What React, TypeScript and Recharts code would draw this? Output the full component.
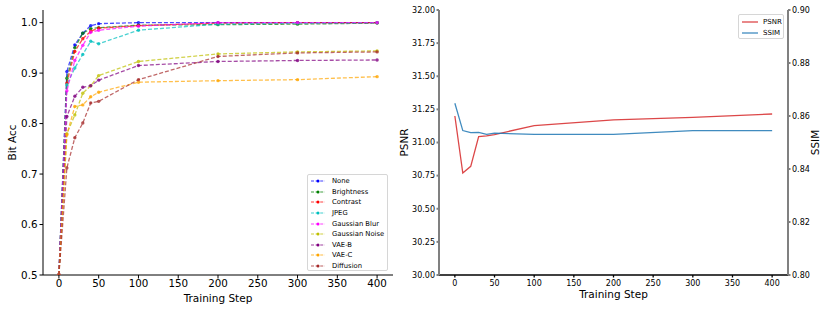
import { LineChart, Line, XAxis, YAxis, Legend } from "recharts";

const FONT = "'DejaVu Sans', sans-serif";

// training steps shared by both panels
const steps = [0, 10, 20, 30, 40, 50, 100, 200, 300, 400];

// bit accuracy under each attack
const accNone = [0.5, 0.903, 0.956, 0.979, 0.994, 0.998, 1.0, 1.0, 1.0, 1.0];
const accBrightness = [0.5, 0.89, 0.95, 0.979, 0.988, 0.99, 0.995, 0.996, 0.997, 0.999];
const accContrast = [0.5, 0.88, 0.943, 0.968, 0.983, 0.989, 0.994, 0.999, 1.0, 1.0];
const accJpeg = [0.5, 0.877, 0.91, 0.937, 0.963, 0.958, 0.985, 0.997, 0.999, 1.0];
const accBlur = [0.5, 0.865, 0.925, 0.955, 0.981, 0.985, 0.993, 1.0, 1.0, 1.0];
const accNoise = [0.5, 0.78, 0.817, 0.86, 0.875, 0.895, 0.923, 0.938, 0.942, 0.944];
const accVaeB = [0.5, 0.814, 0.854, 0.872, 0.875, 0.886, 0.915, 0.923, 0.925, 0.926];
const accVaeC = [0.5, 0.778, 0.834, 0.837, 0.853, 0.862, 0.882, 0.885, 0.887, 0.893];
const accDiffusion = [0.5, 0.712, 0.772, 0.801, 0.841, 0.844, 0.887, 0.933, 0.94, 0.942];

// image quality
const psnr = [31.2, 30.77, 30.82, 31.045, 31.05, 31.06, 31.127, 31.17, 31.19, 31.215];
const ssim = [0.8648, 0.8545, 0.8537, 0.8538, 0.8531, 0.8535, 0.8531, 0.8531, 0.8545, 0.8545];

const stepTicks = [0, 50, 100, 150, 200, 250, 300, 350, 400];
const accTicks = [0.5, 0.6, 0.7, 0.8, 0.9, 1.0];
const psnrTicks = [30, 30.25, 30.5, 30.75, 31, 31.25, 31.5, 31.75, 32];
const ssimTicks = [0.8, 0.82, 0.84, 0.86, 0.88, 0.9];

const accSeries = [
    { key: "none", name: "None", color: "#0000ff", values: accNone },
    { key: "brightness", name: "Brightness", color: "#008000", values: accBrightness },
    { key: "contrast", name: "Contrast", color: "#ff0000", values: accContrast },
    { key: "jpeg", name: "JPEG", color: "#00bfbf", values: accJpeg },
    { key: "blur", name: "Gaussian Blur", color: "#ff00ff", values: accBlur },
    { key: "noise", name: "Gaussian Noise", color: "#bfbf00", values: accNoise },
    { key: "vaeb", name: "VAE-B", color: "#800080", values: accVaeB },
    { key: "vaec", name: "VAE-C", color: "#ffa500", values: accVaeC },
    { key: "diffusion", name: "Diffusion", color: "#a52a2a", values: accDiffusion },
];

const accData = steps.map((step, i) => {
    const row: any = { step };
    accSeries.forEach(s => { row[s.key] = s.values[i]; });
    return row;
});

const qualityData = steps.map((step, i) => ({ step, psnr: psnr[i], ssim: ssim[i] }));

const qualitySeries = [
    { name: "PSNR", color: "#d62728" },
    { name: "SSIM", color: "#1f77b4" },
];

function AccLegend() {
    return (
        <div style={{
            width: 81, height: 97, boxSizing: "border-box", border: "1px solid #d6d6d6", borderRadius: 2,
            background: "rgba(255,255,255,0.85)", padding: "1px 0 0 2px", fontFamily: FONT, fontSize: 6.8, color: "#000",
        }}>
            {accSeries.map(s => (
                <div key={s.key} style={{ height: 10.6, display: "flex", alignItems: "center" }}>
                    <svg width={22} height={6} style={{ flexShrink: 0 }}>
                        <line x1={1} x2={15} y1={3} y2={3} stroke={s.color} strokeOpacity={0.75} strokeWidth={1.2} strokeDasharray="3 1.6" />
                        <circle cx={8} cy={3} r={1.5} fill={s.color} />
                    </svg>
                    <span style={{ whiteSpace: "nowrap" }}>{s.name}</span>
                </div>
            ))}
        </div>
    );
}

function QualityLegend() {
    return (
        <div style={{
            width: 46, height: 25, boxSizing: "border-box", border: "1px solid #d6d6d6", borderRadius: 2,
            background: "rgba(255,255,255,0.85)", padding: "1px 0 0 2px", fontFamily: FONT, fontSize: 7, color: "#000",
        }}>
            {qualitySeries.map(s => (
                <div key={s.name} style={{ height: 11, display: "flex", alignItems: "center" }}>
                    <svg width={22} height={6} style={{ flexShrink: 0 }}>
                        <line x1={1} x2={17} y1={3} y2={3} stroke={s.color} strokeOpacity={0.85} strokeWidth={1.3} />
                    </svg>
                    <span>{s.name}</span>
                </div>
            ))}
        </div>
    );
}

export default function App() {
    const bigTick = { fontSize: 10.3, fill: "#000", fontFamily: FONT };
    const smallTick = { fontSize: 8, fill: "#000", fontFamily: FONT };
    const labelStyle = { fontSize: 10.5, fill: "#000", fontFamily: FONT, textAnchor: "middle" as const };

    return (
        <div style={{ position: "absolute", left: 0, top: 0, width: 830, height: 312, background: "#fff" }}>
            <div style={{ position: "absolute", left: 0, top: 0 }}>
                <LineChart width={395} height={312} data={accData} margin={{ top: 10, right: 2, left: 0, bottom: 0 }}>
                    <XAxis dataKey="step" type="number" domain={[-20, 420]} ticks={stepTicks} allowDataOverflow
                        height={37} tick={bigTick} tickSize={3.5} tickMargin={1.5} stroke="#000"
                        label={{ value: "Training Step", position: "insideBottom", offset: 10, style: labelStyle }} />
                    <XAxis xAxisId="top" orientation="top" type="number" domain={[-20, 420]} height={0} tick={false} tickLine={false} stroke="#000" />
                    <YAxis type="number" domain={[0.5, 1.025]} ticks={accTicks} allowDataOverflow width={43}
                        tick={bigTick} tickSize={3.5} tickMargin={2} stroke="#000" tickFormatter={(v: number) => v.toFixed(1)}
                        label={{ value: "Bit Acc", angle: -90, position: "insideLeft", offset: 12, style: labelStyle }} />
                    <YAxis yAxisId="frame" orientation="right" type="number" domain={[0, 1]} width={0} tick={false} tickLine={false} stroke="#000" />
                    <Legend layout="horizontal" verticalAlign="middle" align="center" content={() => <AccLegend />}
                        wrapperStyle={{ left: 307, top: 174, width: 81, height: 97 }} />
                    {accSeries.map(s => (
                        <Line key={s.key} type="linear" dataKey={s.key} name={s.name} stroke={s.color} strokeOpacity={0.7}
                            strokeWidth={1.3} strokeDasharray="4 2" dot={{ r: 1.7, fill: s.color, fillOpacity: 0.8, stroke: "none" }}
                            isAnimationActive={false} />
                    ))}
                </LineChart>
            </div>
            <div style={{ position: "absolute", left: 395, top: 0 }}>
                <LineChart width={435} height={312} data={qualityData} margin={{ top: 10, right: 0, left: 0, bottom: 0 }}>
                    <XAxis dataKey="step" type="number" domain={[-20, 420]} ticks={stepTicks} allowDataOverflow
                        height={37} tick={smallTick} tickSize={2.5} tickMargin={2.5} stroke="#000" strokeWidth={1.3}
                        label={{ value: "Training Step", position: "insideBottom", offset: 14, style: labelStyle }} />
                    <XAxis xAxisId="top" orientation="top" type="number" domain={[-20, 420]} height={0} tick={false} tickLine={false} stroke="#444" />
                    <YAxis yAxisId="psnr" type="number" domain={[30, 32]} ticks={psnrTicks} allowDataOverflow width={44}
                        tick={smallTick} tickSize={2.5} tickMargin={1.5} stroke="#808080" strokeWidth={2}
                        tickFormatter={(v: number) => v.toFixed(2)}
                        label={{ value: "PSNR", angle: -90, position: "insideLeft", offset: 9, style: labelStyle }} />
                    <YAxis yAxisId="ssim" orientation="right" type="number" domain={[0.8, 0.9]} ticks={ssimTicks} allowDataOverflow width={42}
                        tick={smallTick} tickSize={2.5} tickMargin={1.5} stroke="#808080" strokeWidth={2}
                        tickFormatter={(v: number) => v.toFixed(2)}
                        label={{ value: "SSIM", angle: -90, position: "insideRight", offset: 15, style: labelStyle }} />
                    <Legend layout="horizontal" verticalAlign="middle" align="center" content={() => <QualityLegend />}
                        wrapperStyle={{ left: 343, top: 14, width: 46, height: 25 }} />
                    <Line yAxisId="psnr" type="linear" dataKey="psnr" name="PSNR" stroke="#d62728" strokeOpacity={0.85}
                        strokeWidth={1.3} dot={false} isAnimationActive={false} />
                    <Line yAxisId="ssim" type="linear" dataKey="ssim" name="SSIM" stroke="#1f77b4" strokeOpacity={0.85}
                        strokeWidth={1.3} dot={false} isAnimationActive={false} />
                </LineChart>
            </div>
        </div>
    );
}
